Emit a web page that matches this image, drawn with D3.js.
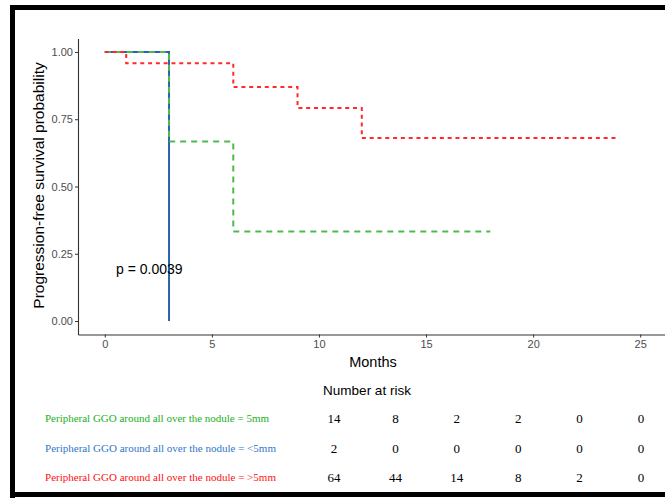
<!DOCTYPE html>
<html>
<head>
<meta charset="utf-8">
<script src="https://cdn.jsdelivr.net/npm/d3@7"></script>
<style>
  body { margin: 0; background: #fff; }
  svg { display: block; }
</style>
</head>
<body>
<svg id="chart"></svg>
<script>
// survival steps (months, probability)
const greenTimes = [0, 3, 6, 18];
const greenSurv = [1, 0.667, 0.333, 0.333];
const blueTimes = [0, 3, 3];
const blueSurv = [1, 0, 0];
const redTimes = [0, 1, 6, 9, 12, 24];
const redSurv = [1, 0.958, 0.87, 0.792, 0.68, 0.68];

const xTicks = [0, 5, 10, 15, 20, 25];
const yTicks = [0, 0.25, 0.5, 0.75, 1];

const groups = [
  "Peripheral GGO around all over the nodule = 5mm",
  "Peripheral GGO around all over the nodule = <5mm",
  "Peripheral GGO around all over the nodule = >5mm"
];
const riskGreen = [14, 8, 2, 2, 0, 0];
const riskBlue = [2, 0, 0, 0, 0, 0];
const riskRed = [64, 44, 14, 8, 2, 0];

const W = 665, H = 498;
const svg = d3.select("#chart").attr("width", W).attr("height", H);

// outer frame
svg.append("path")
  .attr("d", `M12.5,${H} L12.5,7.5 L${W},7.5`)
  .attr("fill", "none").attr("stroke", "#000").attr("stroke-width", 5);
svg.append("line")
  .attr("x1", 10).attr("x2", W).attr("y1", 494.5).attr("y2", 494.5)
  .attr("stroke", "#000").attr("stroke-width", 5);

const x = d3.scaleLinear().domain([-1.25, 26.25]).range([78, 667]);
const y = d3.scaleLinear().domain([-0.05, 1.05]).range([334.5, 38.5]);

const axisCol = "#333";
const tickTxt = "#4d4d4d";

const xAxis = d3.axisBottom(x).tickValues(xTicks).tickSize(3).tickPadding(3).tickSizeOuter(0);
const yAxis = d3.axisLeft(y).tickValues(yTicks).tickSize(3).tickPadding(2)
  .tickFormat(d3.format(".2f")).tickSizeOuter(0);

const gx = svg.append("g").attr("transform", `translate(0,${y(-0.05)})`).call(xAxis);
const gy = svg.append("g").attr("transform", `translate(${x(-1.25)},0)`).call(yAxis);
[gx, gy].forEach(g => {
  g.select(".domain").attr("stroke", axisCol).attr("stroke-width", 1.1);
  g.selectAll(".tick line").attr("stroke", axisCol);
  g.selectAll(".tick text").attr("fill", tickTxt)
    .style("font-family", "Liberation Sans, Arial, sans-serif").style("font-size", "11px");
});

svg.append("text")
  .attr("transform", `translate(44,${(y(1.05) + y(-0.05)) / 2 - 1}) rotate(-90)`)
  .attr("text-anchor", "middle")
  .style("font-family", "Liberation Sans, Arial, sans-serif").style("font-size", "15.5px")
  .text("Progression-free survival probability");

svg.append("text")
  .attr("x", 373).attr("y", 367).attr("text-anchor", "middle")
  .style("font-family", "Liberation Sans, Arial, sans-serif").style("font-size", "14.5px")
  .text("Months");

const stepLine = d3.line().x(d => x(d[0])).y(d => y(d[1])).curve(d3.curveStepAfter);
// blue drawn first so the dashed lines sit on top of it
const curves = [
  { t: blueTimes, s: blueSurv, col: "#2a62ad", dash: null },
  { t: greenTimes, s: greenSurv, col: "#4cbb4c", dash: "6,5" },
  { t: redTimes, s: redSurv, col: "#ff2a2a", dash: "4,3.8" }
];
curves.forEach(c => {
  const pts = c.t.map((t, i) => [t, c.s[i]]);
  const p = svg.append("path").datum(pts)
    .attr("d", stepLine)
    .attr("fill", "none").attr("stroke", c.col).attr("stroke-width", 2);
  if (c.dash) p.attr("stroke-dasharray", c.dash);
});

svg.append("text")
  .attr("x", 116).attr("y", 274)
  .style("font-family", "Liberation Sans, Arial, sans-serif").style("font-size", "14px")
  .text("p = 0.0039");

// risk table
svg.append("text")
  .attr("x", 367).attr("y", 395).attr("text-anchor", "middle")
  .style("font-family", "Liberation Sans, Arial, sans-serif").style("font-size", "13.5px")
  .text("Number at risk");

const col = d3.scalePoint().domain(d3.range(6)).range([334, 641]);
const rowY = d3.scalePoint().domain([0, 1, 2]).range([422, 481]);
const rows = [
  { label: groups[0], vals: riskGreen, col: "#22b022" },
  { label: groups[1], vals: riskBlue, col: "#2f78c8" },
  { label: groups[2], vals: riskRed, col: "#ff1010" }
];
rows.forEach((r, i) => {
  svg.append("text")
    .attr("x", 45).attr("y", rowY(i))
    .attr("fill", r.col)
    .style("font-family", "Liberation Serif, Times New Roman, serif").style("font-size", "10px")
    .attr("textLength", i === 0 ? 224 : 231).attr("lengthAdjust", "spacingAndGlyphs")
    .text(r.label);
  svg.append("g").selectAll("text").data(r.vals).join("text")
    .attr("x", (d, j) => col(j)).attr("y", rowY(i) + 1)
    .attr("text-anchor", "middle")
    .style("font-family", "Liberation Serif, Times New Roman, serif").style("font-size", "13px")
    .text(d => d);
});
</script>
</body>
</html>
